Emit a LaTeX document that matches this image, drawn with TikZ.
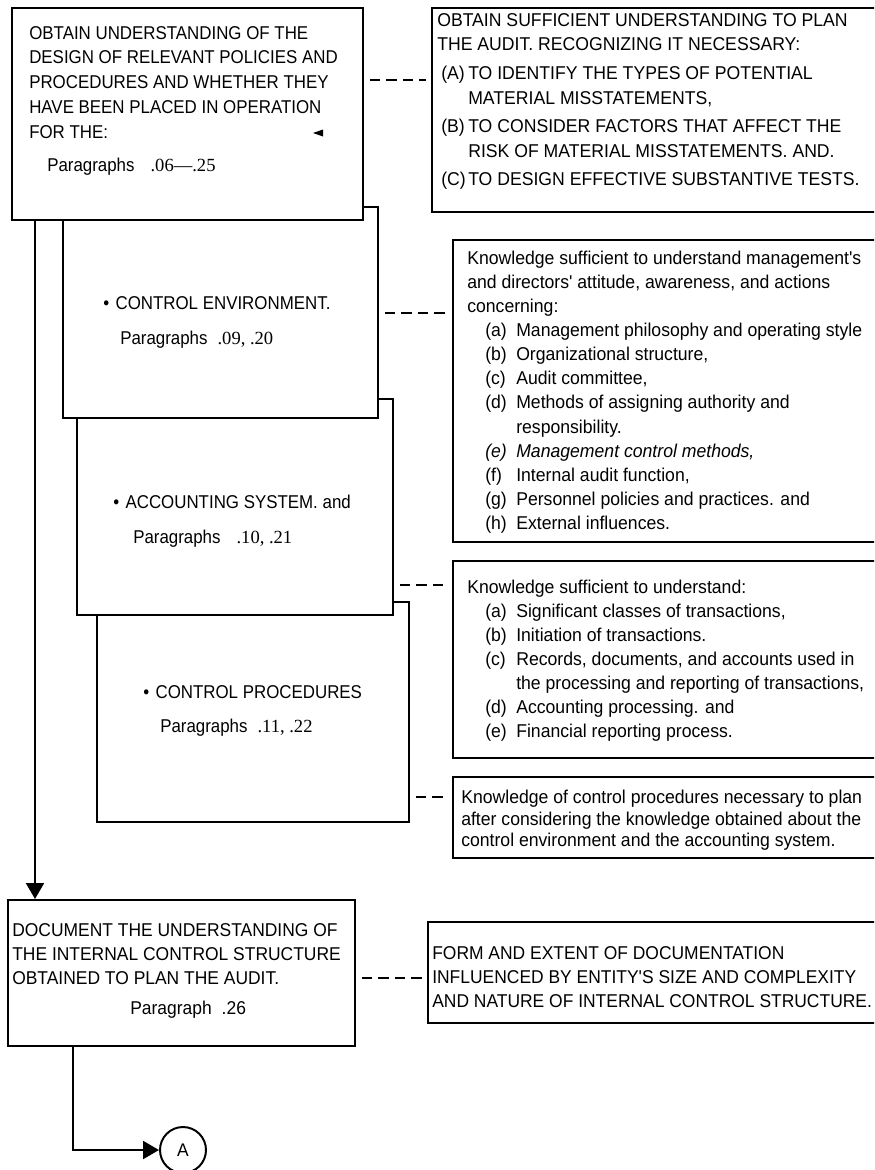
\documentclass[tikz,border=0pt]{standalone}
\usepackage{fontspec}
\setmainfont{Liberation Sans}[FakeStretch=0.91]
\newfontfamily\notesf{Liberation Sans}[FakeStretch=0.95]
\newfontfamily\docsf{Liberation Sans}[FakeStretch=0.94]
\newfontfamily\numfont{Liberation Serif}
\usetikzlibrary{arrows.meta,fit,positioning}

\newcommand{\parnum}[1]{{\numfont #1}}
\newcommand{\itm}[1]{\hspace*{4.5mm}\makebox[7.75mm][l]{#1}}
\newcommand{\capitm}[1]{\hspace*{1mm}\makebox[6.75mm][l]{#1}}

\begin{document}
\begin{tikzpicture}[
    x=0.25mm, y=-0.25mm,
    box/.style={draw, line width=1.4pt, fill=white, inner sep=0pt},
    txt/.style={anchor=north west, inner sep=0pt, align=left, font=\fontsize{13.2}{17.6}\selectfont},
    note/.style={txt, font=\notesf\fontsize{13.2}{17.1}\selectfont},
    link/.style={line width=1.6pt, dash pattern=on 2.6mm off 1.5mm, shorten <=1.5mm, shorten >=1.2mm},
    flow/.style={line width=1.4pt, -{Triangle[width=4.5mm,length=4mm]}}
]
    \useasboundingbox (0,0) rectangle (874,1170);
    \clip (0,0) rectangle (874,1170);
    \fill[white] (0,0) rectangle (874,1170);

    % stacked boxes, back to front
    \node [box, fit={(97,602) (409,822)}] (proc) {};
    \node [box, fit={(77,399) (393,615)}] (acct) {};
    \node [box, fit={(63,207) (378,418)}] (env) {};
    \node [box, fit={(12,8) (363,220)}] (main) {};
    \node [box, fit={(8,900) (355,1046)}] (doc) {};

    % notes on the right
    \node [box, fit={(432,8) (890,212)}] (plan) {};
    \node [box, fit={(453,240) (890,542)}] (envnote) {};
    \node [box, fit={(453,561) (890,758)}] (acctnote) {};
    \node [box, fit={(453,777) (890,858)}] (procnote) {};
    \node [box, fit={(428,922) (890,1023)}] (docnote) {};

    % texts
    \node [txt] (mainT) at (29,26) {OBTAIN UNDERSTANDING OF THE\\DESIGN OF RELEVANT POLICIES AND\\PROCEDURES AND WHETHER THEY\\HAVE BEEN PLACED IN OPERATION\\FOR THE:};
    \node [txt] (mainP) at (47,158) {Paragraphs\hspace{4mm}\parnum{.06—.25}};
    \fill (313,133) -- (323,129.5) -- (323,136.5) -- cycle;

    \node [txt] (envT) at (103,296) {\textbullet\hspace{1.6mm}CONTROL ENVIRONMENT.};
    \node [txt] (envP) at (120,331) {Paragraphs\hspace{2.5mm}\parnum{.09, .20}};
    \node [txt] (acctT) at (113,495) {\textbullet\hspace{1.6mm}ACCOUNTING SYSTEM. and};
    \node [txt] (acctP) at (133,530) {Paragraphs\hspace{4mm}\parnum{.10, .21}};
    \node [txt] (procT) at (143,685) {\textbullet\hspace{1.6mm}CONTROL PROCEDURES};
    \node [txt] (procP) at (160,719) {Paragraphs\hspace{2.5mm}\parnum{.11, .22}};

    \node [txt, font=\docsf\fontsize{13.2}{17.1}\selectfont] (docT) at (12,923) {DOCUMENT THE UNDERSTANDING OF\\THE INTERNAL CONTROL STRUCTURE\\OBTAINED TO PLAN THE AUDIT.};
    \node [txt, font=\docsf\fontsize{13.2}{17.1}\selectfont] (docP) at (130,1001) {Paragraph\hspace{2.5mm}.26};

    \node [note, font=\notesf\fontsize{13.2}{17.6}\selectfont] (planT) at (437,13) {OBTAIN SUFFICIENT UNDERSTANDING TO PLAN\\
        THE AUDIT. RECOGNIZING IT NECESSARY:\\[2.6pt]
        \capitm{(A)}TO IDENTIFY THE TYPES OF POTENTIAL\\
        \hspace*{7.75mm}MATERIAL MISSTATEMENTS,\\[2.6pt]
        \capitm{(B)}TO CONSIDER FACTORS THAT AFFECT THE\\
        \hspace*{7.75mm}RISK OF MATERIAL MISSTATEMENTS. AND.\\[2.6pt]
        \capitm{(C)}TO DESIGN EFFECTIVE SUBSTANTIVE TESTS.};

    \node [note] (envnoteT) at (467,251) {Knowledge sufficient to understand management's\\
        and directors' attitude, awareness, and actions\\
        concerning:\\
        \itm{(a)}Management philosophy and operating style\\
        \itm{(b)}Organizational structure,\\
        \itm{(c)}Audit committee,\\
        \itm{(d)}Methods of assigning authority and\\
        \hspace*{12.25mm}responsibility.\\
        \itm{\itshape(e)}{\itshape Management control methods,}\\
        \itm{(f)}Internal audit function,\\
        \itm{(g)}Personnel policies and practices. and\\
        \itm{(h)}External influences.};

    \node [note] (acctnoteT) at (467,580) {Knowledge sufficient to understand:\\
        \itm{(a)}Significant classes of transactions,\\
        \itm{(b)}Initiation of transactions.\\
        \itm{(c)}Records, documents, and accounts used in\\
        \hspace*{12.25mm}the processing and reporting of transactions,\\
        \itm{(d)}Accounting processing. and\\
        \itm{(e)}Financial reporting process.};

    \node [note, font=\notesf\fontsize{13.2}{15.2}\selectfont] (procnoteT) at (461,790) {Knowledge of control procedures necessary to plan\\
        after considering the knowledge obtained about the\\
        control environment and the accounting system.};

    \node [txt, font=\docsf\fontsize{13.2}{17.3}\selectfont] (docnoteT) at (432,946) {FORM AND EXTENT OF DOCUMENTATION\\
        INFLUENCED BY ENTITY'S SIZE AND COMPLEXITY\\
        AND NATURE OF INTERNAL CONTROL STRUCTURE.};

    \node [circle, draw, line width=1.4pt, minimum size=11.5mm, inner sep=0pt, font=\notesf\fontsize{13}{15}\selectfont] (conn) at (183,1150) {A};

    % connections
    \coordinate (spine) at (35,0);
    \coordinate (tail) at (73,0);
    \draw [flow] (main.south -| spine) -- (doc.north -| spine);
    \draw [flow] (doc.south -| tail) |- (conn);

    \draw [link] (main.east |- 0,80) -- (plan.west |- 0,80);
    \draw [link] (env.east |- 0,313) -- (envnote.west |- 0,313);
    \draw [link] (acct.east |- 0,585) -- (acctnote.west |- 0,585);
    \draw [link] (proc.east |- 0,797) -- (procnote.west |- 0,797);
    \draw [link] (doc.east |- 0,978) -- (docnote.west |- 0,978);

\end{tikzpicture}
\end{document}
